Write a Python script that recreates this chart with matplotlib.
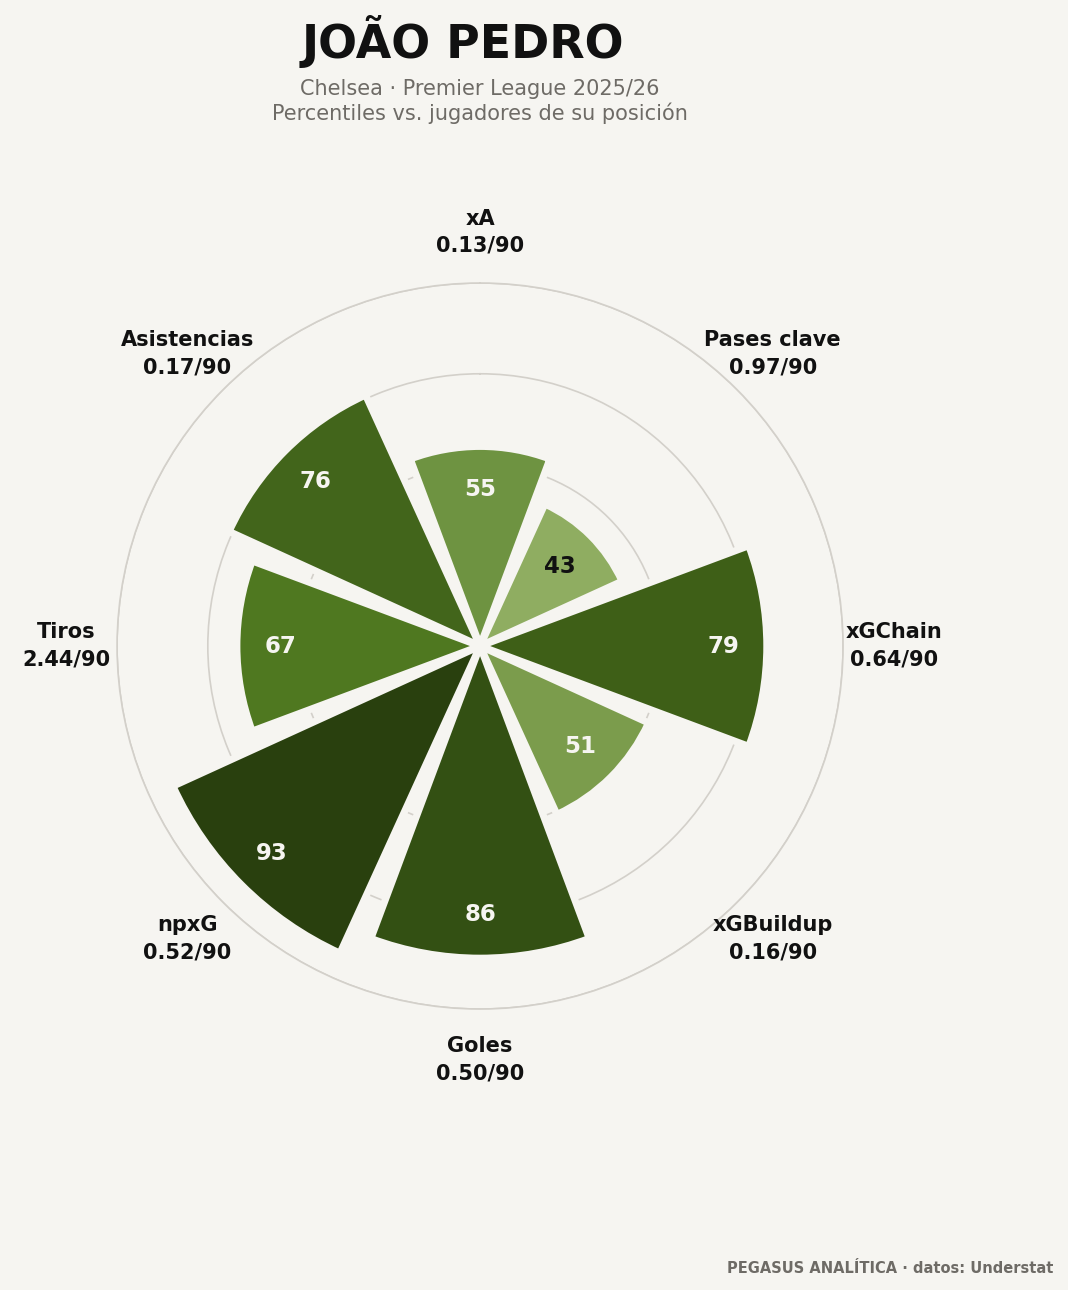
import numpy as np
import matplotlib
matplotlib.use("Agg")
import matplotlib.pyplot as plt

# data
player = "JOÃO PEDRO"
subtitle1 = "Chelsea · Premier League 2025/26"
subtitle2 = "Percentiles vs. jugadores de su posición"
footer = "PEGASUS ANALÍTICA · datos: Understat"

metrics = ["xA", "Pases clave", "xGChain", "xGBuildup",
           "Goles", "npxG", "Tiros", "Asistencias"]
per90 = ["0.13", "0.97", "0.64", "0.16", "0.50", "0.52", "2.44", "0.17"]
percentiles = [55, 43, 79, 51, 86, 93, 67, 76]

# style
bg = "#f6f5f1"
grid_c = "#d3d0ca"
bar_colors = ["#6e9341", "#8fad61", "#3e5f17", "#7b9c4c",
              "#335013", "#29400e", "#4f7820", "#42651b"]

fig = plt.figure(figsize=(7.12, 8.6), dpi=150, facecolor=bg)
ax = fig.add_axes([0.1096, 0.2178, 0.6798, 0.5628], projection="polar")
ax.set_facecolor(bg)
ax.set_theta_zero_location("N")
ax.set_theta_direction(-1)

n = len(metrics)
angles = np.arange(n) * 2 * np.pi / n
slot = 2 * np.pi / n

ax.bar(angles, percentiles, width=slot * 0.91, color=bar_colors,
       edgecolor=bg, linewidth=3.4, zorder=3)

ax.set_ylim(0, 100)
ax.set_yticks([25, 50, 75, 100])
ax.set_yticklabels([])
ax.set_xticks([])
ax.yaxis.grid(True, color=grid_c, linewidth=0.8)
ax.xaxis.grid(False)
ax.spines["polar"].set_color(grid_c)
ax.spines["polar"].set_linewidth(0.8)

for a, v in zip(angles, percentiles):
    tc = "#111111" if v < 50 else "#f6f5f1"
    ax.text(a, v - 12, str(v), ha="center", va="center", fontsize=11,
            fontweight="bold", color=tc, zorder=4)

for a, m, p in zip(angles, metrics, per90):
    ax.text(a, 114, f"{m}\n{p}/90", ha="center", va="center", fontsize=10,
            fontweight="bold", color="#111111", clip_on=False,
            linespacing=1.45)

fig.text(0.433, 0.955, player, ha="center", va="baseline", fontsize=22,
         fontweight="bold", color="#111111")
fig.text(0.449, 0.9264, subtitle1, ha="center", va="baseline", fontsize=10,
         color="#6e6b66")
fig.text(0.449, 0.907, subtitle2, ha="center", va="baseline", fontsize=10,
         color="#6e6b66")
fig.text(0.986, 0.0132, footer, ha="right", va="baseline", fontsize=7,
         fontweight="bold", color="#6e6b66")

fig.savefig("out.png", dpi=150, facecolor=bg)
